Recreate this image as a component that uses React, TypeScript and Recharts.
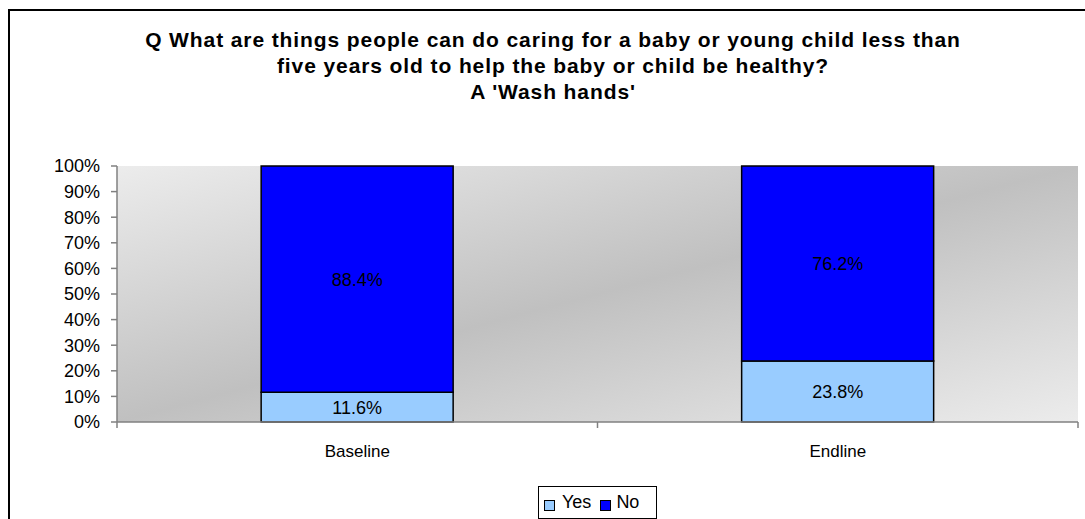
import React from 'react';
import { BarChart, Bar, XAxis, YAxis, CartesianGrid, LabelList } from 'recharts';

const titleLines = [
    'Q What are things people can do caring for a baby or young child less than',
    'five years old to help the baby or child be healthy?',
    "A 'Wash hands'",
];
const categories = ['Baseline', 'Endline'];
const yesValues = [11.6, 23.8];
const noValues = [88.4, 76.2];
const seriesNames = ['Yes', 'No'];
const seriesColors = ['#99ccff', '#0000ff'];
const yTicks = [0, 10, 20, 30, 40, 50, 60, 70, 80, 90, 100];

const FONT = 'Arial, "Liberation Sans", sans-serif';

const data = categories.map((name, i) => ({ name, yes: yesValues[i], no: noValues[i] }));

// category ticks in this chart sit on the band edges, labels in the middle
const XTick = (props: any) => {
    const { x, y, payload, index } = props;
    const half = payload && payload.offset ? payload.offset : 240;
    const axisY = y - 8;
    return (
        <g>
            {index === 0 && <line x1={x - half} x2={x - half} y1={axisY} y2={axisY + 6} stroke="#808080" strokeWidth={1.5} />}
            <line x1={x + half} x2={x + half} y1={axisY} y2={axisY + 6} stroke="#808080" strokeWidth={1.5} />
            <text x={x} y={y} dy={27} textAnchor="middle" fontSize={17} fontFamily={FONT} fill="#000">
                {payload.value}
            </text>
        </g>
    );
};

export default function App() {
    return (
        <div style={{ position: 'fixed', left: 0, top: 0, width: 1085, height: 519, overflow: 'hidden', background: '#fff' }}>
            <div style={{ position: 'absolute', left: 8, top: 9, width: 1200, height: 600, border: '2px solid #000', boxSizing: 'border-box' }} />

            <div style={{ position: 'absolute', left: 0, top: 27, width: 1106, textAlign: 'center', fontFamily: FONT, fontWeight: 'bold', fontSize: 21, letterSpacing: 0.9, lineHeight: '26px', color: '#000' }}>
                {titleLines.map((t, i) => (
                    <div key={i}>{t}</div>
                ))}
            </div>

            <div style={{ position: 'absolute', left: 0, top: 0 }}>
                <BarChart width={1100} height={519} data={data} barCategoryGap="30%" margin={{ top: 166, right: 22, bottom: 67, left: 57 }}>
                    <defs>
                        <linearGradient id="plotBg" x1="0" y1="0" x2="1" y2="1">
                            <stop offset="0%" stopColor="#ececec" />
                            <stop offset="50%" stopColor="#c0c0c0" />
                            <stop offset="100%" stopColor="#ececec" />
                        </linearGradient>
                    </defs>
                    <CartesianGrid horizontal={false} vertical={false} fill="url(#plotBg)" fillOpacity={1} />
                    <XAxis dataKey="name" height={30} tickLine={false} tickSize={6} tickMargin={2} axisLine={{ stroke: '#808080', strokeWidth: 1.5 }} tick={<XTick />} />
                    <XAxis xAxisId="top" dataKey="name" orientation="top" height={0} tick={false} tickLine={false} axisLine={{ stroke: '#808080', strokeWidth: 1.5 }} />
                    <YAxis
                        width={60}
                        domain={[0, 100]}
                        ticks={yTicks}
                        interval={0}
                        tickFormatter={(v: number) => `${v}%`}
                        tickSize={6}
                        tickMargin={11}
                        tickLine={{ stroke: '#808080', strokeWidth: 1.5 }}
                        axisLine={{ stroke: '#808080', strokeWidth: 1.5 }}
                        tick={{ fill: '#000', fontSize: 18, fontFamily: FONT }}
                    />
                    <YAxis yAxisId="right" orientation="right" width={0} domain={[0, 100]} tick={false} tickLine={false} axisLine={{ stroke: '#808080', strokeWidth: 1.5 }} />
                    <Bar dataKey="yes" name={seriesNames[0]} stackId="a" fill={seriesColors[0]} stroke="#000" strokeWidth={1.5} isAnimationActive={false}>
                        <LabelList dataKey="yes" position="center" fill="#000" fontSize={18} fontFamily={FONT} formatter={(v: any) => `${Number(v).toFixed(1)}%`} />
                    </Bar>
                    <Bar dataKey="no" name={seriesNames[1]} stackId="a" fill={seriesColors[1]} stroke="#000" strokeWidth={1.5} isAnimationActive={false}>
                        <LabelList dataKey="no" position="center" fill="#000" fontSize={18} fontFamily={FONT} formatter={(v: any) => `${Number(v).toFixed(1)}%`} />
                    </Bar>
                </BarChart>
            </div>

            <div style={{ position: 'absolute', left: 538, top: 486, width: 119, height: 33, border: '1px solid #000', boxSizing: 'border-box', display: 'flex', alignItems: 'center', paddingLeft: 5, fontFamily: FONT, fontSize: 18, color: '#000', background: '#fff' }}>
                {seriesNames.map((n, i) => (
                    <div key={n} style={{ display: 'flex', alignItems: 'center', marginRight: i === 0 ? 9 : 0 }}>
                        <span style={{ display: 'inline-block', width: 9, height: 9, marginTop: 6, background: seriesColors[i], border: '1.5px solid #000', marginRight: i === 0 ? 7 : 5 }} />
                        <span>{n}</span>
                    </div>
                ))}
            </div>
        </div>
    );
}
